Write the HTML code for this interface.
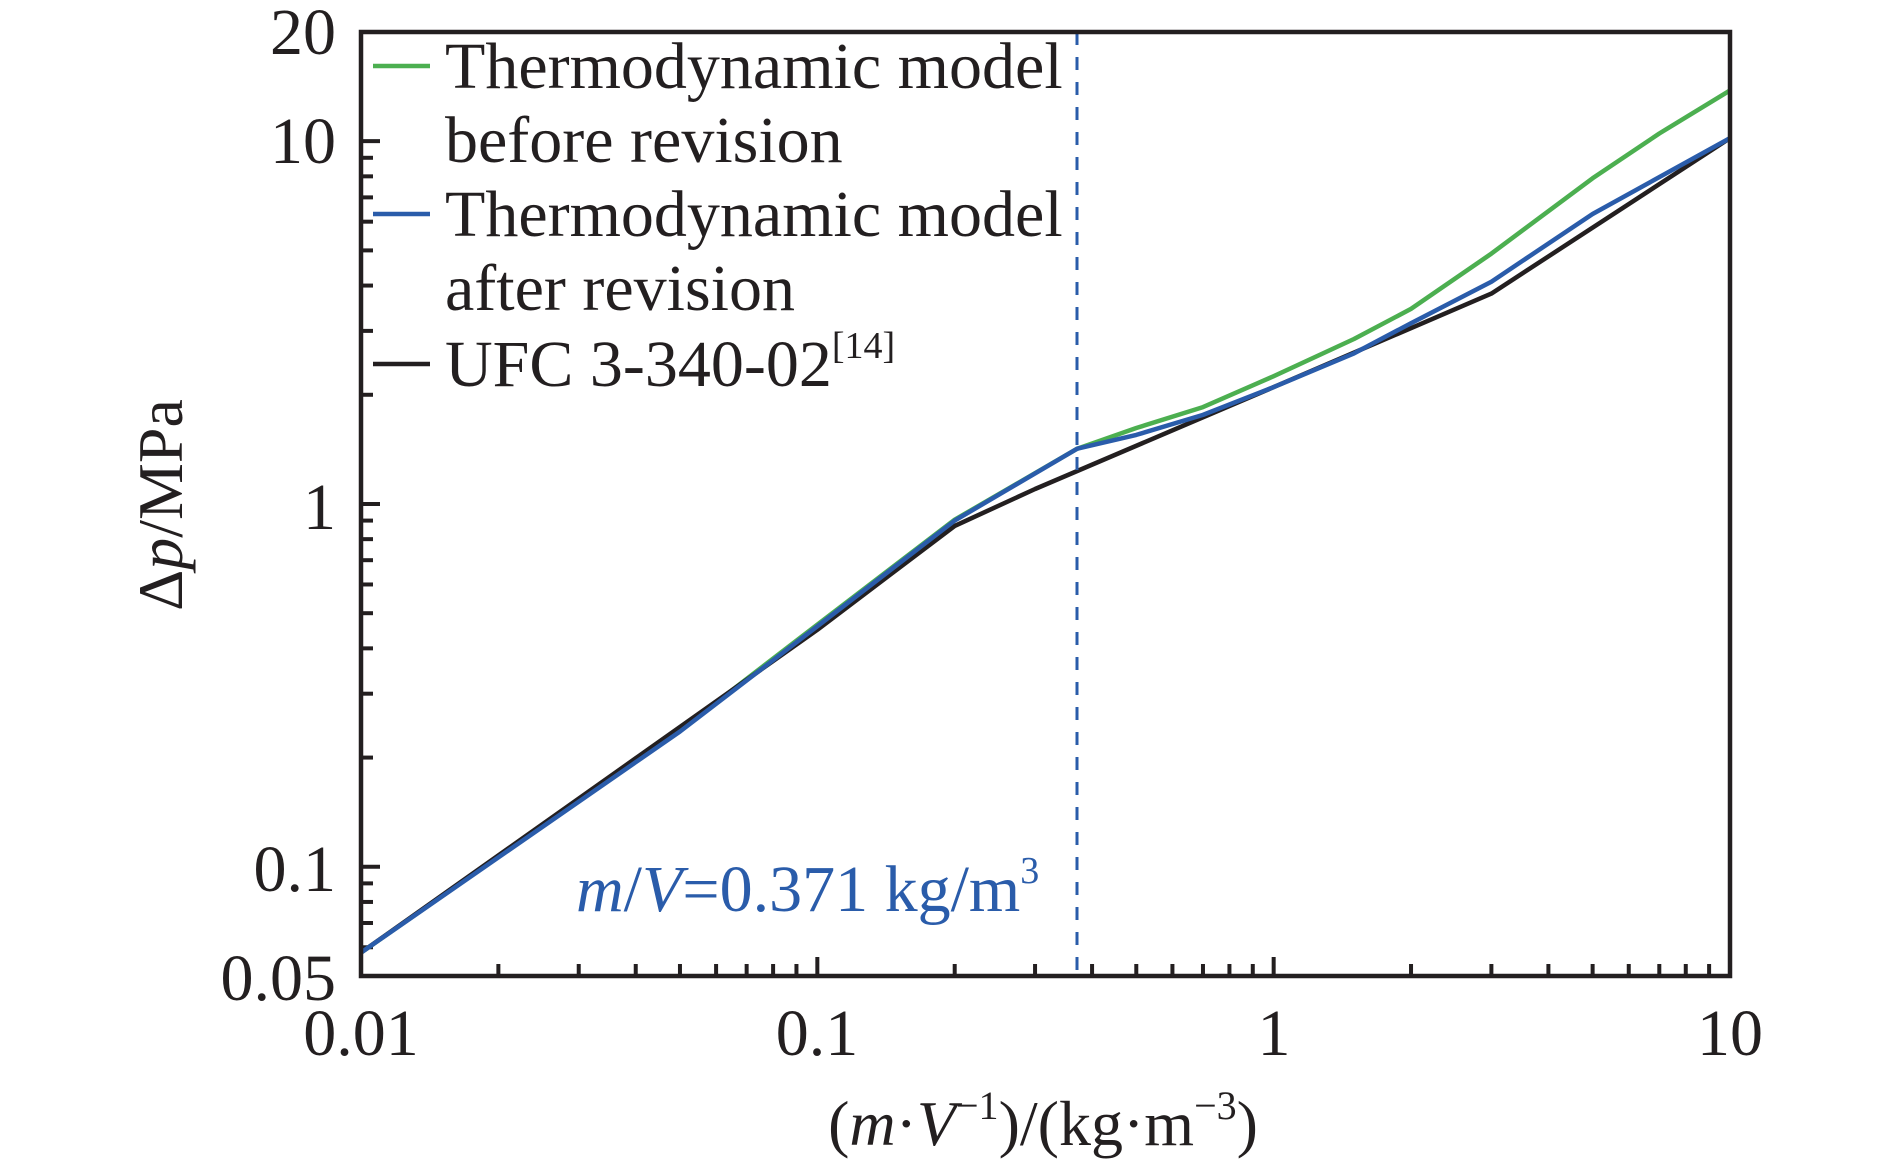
<!DOCTYPE html>
<html><head><meta charset="utf-8"><style>
html,body{margin:0;padding:0;background:#fff;}
svg{display:block;}
text{font-family:"Liberation Serif",serif;fill:#231f20;}
</style></head><body>
<svg id="s" width="1890" height="1166" viewBox="0 0 1890 1166" xmlns="http://www.w3.org/2000/svg">
<rect width="1890" height="1166" fill="#fff"/>
<g id="ticks" stroke="#231f20" stroke-width="4"></g>
<g id="series" fill="none" stroke-width="4.5" stroke-linejoin="round"></g>
<line x1="1077" y1="32" x2="1077" y2="976" stroke="#2a5caa" stroke-width="3" stroke-dasharray="13 12"/>
<rect x="361" y="32" width="1369" height="944" fill="none" stroke="#231f20" stroke-width="4.5"/>
<g font-size="66" text-anchor="end">
<text x="336" y="54">20</text>
<text x="336" y="163">10</text>
<text x="336" y="529">1</text>
<text x="336" y="891">0.1</text>
<text x="336" y="1000">0.05</text>
</g>
<g font-size="66" text-anchor="middle">
<text x="361" y="1055">0.01</text>
<text x="817" y="1055">0.1</text>
<text x="1274" y="1055">1</text>
<text x="1730" y="1055">10</text>
</g>
<text x="1043" y="1145" font-size="64" text-anchor="middle">(<tspan font-style="italic">m</tspan>·<tspan font-style="italic">V</tspan><tspan font-size="40" dy="-26">−1</tspan><tspan dy="26">)/(kg·m</tspan><tspan font-size="40" dy="-26">−3</tspan><tspan dy="26">)</tspan></text>
<text transform="translate(182,505) rotate(-90)" font-size="64" text-anchor="middle">Δ<tspan font-style="italic">p</tspan>/MPa</text>
<g stroke-width="4.5">
<line x1="373" y1="66" x2="430" y2="66" stroke="#4caf50"/>
<line x1="373" y1="214" x2="430" y2="214" stroke="#2a5caa"/>
<line x1="373" y1="364" x2="430" y2="364" stroke="#231f20"/>
</g>
<g font-size="66">
<text x="445" y="88">Thermodynamic model</text>
<text x="445" y="162">before revision</text>
<text x="445" y="236">Thermodynamic model</text>
<text x="445" y="310">after revision</text>
<text x="445" y="386">UFC 3-340-02<tspan font-size="38" dy="-28">[14]</tspan></text>
</g>
<text x="576" y="911" font-size="66" fill="#2a5caa" style="fill:#2a5caa"><tspan font-style="italic">m</tspan>/<tspan font-style="italic">V</tspan>=0.371 kg/m<tspan font-size="38" dy="-28">3</tspan></text>
</svg>
<script>
var X=function(v){return 361+456.33*Math.log10(v/0.01);};
var Y=function(v){return 976-362.8*Math.log10(v/0.05);};
var ns="http://www.w3.org/2000/svg";
var t=document.getElementById("ticks");
function ln(x1,y1,x2,y2){var l=document.createElementNS(ns,"line");l.setAttribute("x1",x1);l.setAttribute("y1",y1);l.setAttribute("x2",x2);l.setAttribute("y2",y2);t.appendChild(l);}
[0.01,0.1,1].forEach(function(d){for(var k=1;k<10;k++){var v=d*k;var x=X(v);var len=(k==1)?19:12;if(v>0.0101&&v<9.99)ln(x,976,x,976-len);}});
[0.01,0.1,1,10].forEach(function(d){for(var k=1;k<10;k++){var v=d*k;if(v<=0.0501||v>=19.9)continue;var y=Y(v);var len=(k==1)?19:12;ln(361,y,361+len,y);}});
var s=document.getElementById("series");
function pl(pts,c){var p=document.createElementNS(ns,"polyline");p.setAttribute("points",pts.map(function(q){return X(q[0]).toFixed(1)+","+Y(q[1]).toFixed(1);}).join(" "));p.setAttribute("stroke",c);s.appendChild(p);}
pl([[0.01,0.058],[0.05,0.238],[0.1,0.465],[0.2,0.905],[0.371,1.42],[0.5,1.62],[0.7,1.85],[1,2.25],[1.5,2.85],[2,3.45],[3,4.9],[5,7.9],[7,10.5],[10,13.8]],"#4caf50");
pl([[0.01,0.058],[0.1,0.45],[0.2,0.87],[0.3,1.1],[1,2.1],[3,3.8],[10,10.2]],"#231f20");
pl([[0.01,0.058],[0.05,0.236],[0.1,0.46],[0.2,0.9],[0.371,1.42],[0.5,1.55],[0.7,1.76],[1,2.1],[1.5,2.6],[2,3.15],[3,4.1],[5,6.3],[10,10.2]],"#2a5caa");
</script>
</body></html>
